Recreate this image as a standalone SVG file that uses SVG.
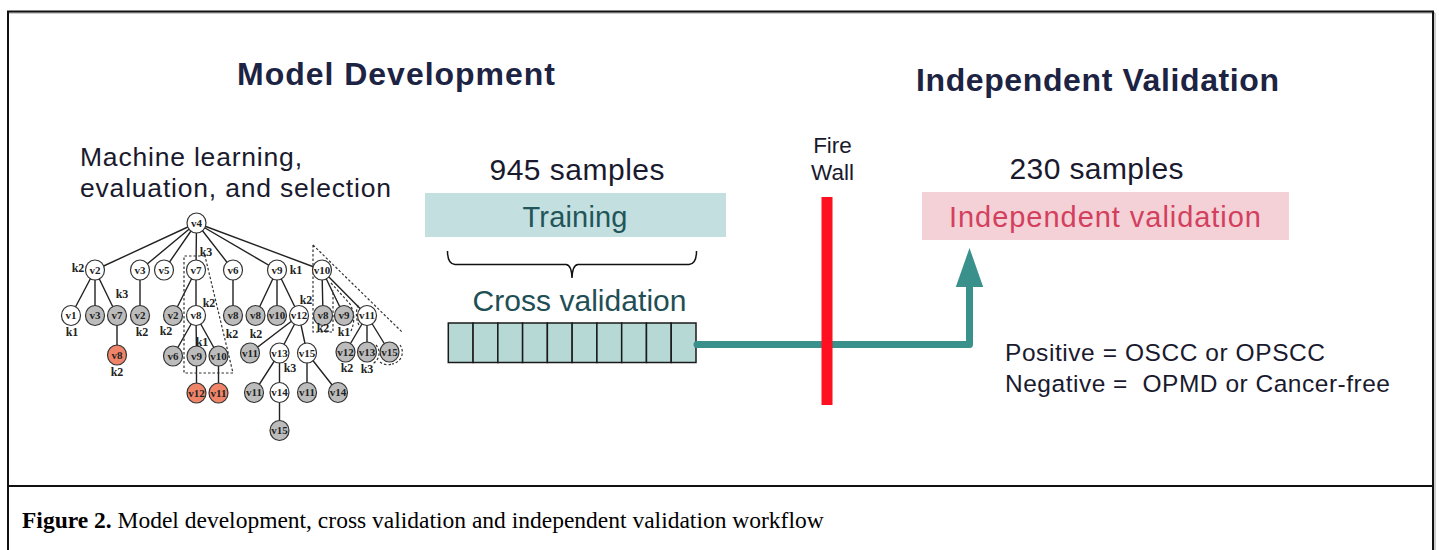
<svg xmlns="http://www.w3.org/2000/svg" width="1439" height="550" viewBox="0 0 1439 550">
<defs>
<style>
.frame{fill:none;stroke:#111;stroke-width:2}
.title{font-family:"Liberation Sans",Arial,sans-serif;font-weight:bold;font-size:32px;fill:#1d2342}
.body{font-family:"Liberation Sans",Arial,sans-serif;font-size:26.5px;fill:#1a1a2e}
.big{font-family:"Liberation Sans",Arial,sans-serif;font-size:30px;fill:#1a1a2e}
.teal{font-family:"Liberation Sans",Arial,sans-serif;font-size:29px;fill:#22555a}
.edge{stroke:#222;stroke-width:1.4;fill:none}
.dash{stroke:#333;stroke-width:1.2;fill:none;stroke-dasharray:2.5 2}
.nw{fill:#fff;stroke:#333;stroke-width:1.2}
.ng{fill:#bcbcbc;stroke:#333;stroke-width:1.2}
.no{fill:#ef8468;stroke:#333;stroke-width:1.2}
.vl{font-family:"Liberation Serif","Times New Roman",serif;font-weight:bold;font-size:11px;fill:#222;text-anchor:middle}
.kl{font-family:"Liberation Serif","Times New Roman",serif;font-weight:bold;font-size:12px;fill:#222;text-anchor:middle}
.cell{fill:#b6d9d6;stroke:#1a1a1a;stroke-width:1.5}
.cap{font-family:"Liberation Serif","Times New Roman",serif;font-size:23.5px;fill:#000}
</style>
</defs>
<rect width="1439" height="550" fill="#fff"/>
<g id="frame">
<line x1="9" y1="13" x2="1435" y2="13" stroke="#999" stroke-width="1"/>
<line x1="1435" y1="13" x2="1435" y2="550" stroke="#999" stroke-width="1"/>
<rect class="frame" x="8" y="11.5" width="1425" height="560"/>
<line class="frame" x1="8" y1="486" x2="1433" y2="486"/>
</g>
<g id="titles">
<text class="title" x="237" y="85" textLength="318">Model Development</text>
<text class="title" x="916" y="91" textLength="363">Independent Validation</text>
</g>
<g id="ml-label">
<text class="body" x="80" y="166" textLength="222">Machine learning,</text>
<text class="body" x="80" y="197" textLength="311">evaluation, and selection</text>
</g>
<g id="tree">
<g id="tree-edges">
<path class="edge" d="M196.5,223 L95,270 M196.5,223 L140,270 M196.5,223 L164,270 M196.5,223 L196,270 M196.5,223 L233,270 M196.5,223 L277,270 M196.5,223 L322,270"/>
<path class="edge" d="M95,270 L71,315.5 M95,270 L95,315.5 M95,270 L117,315.5 M140,270 L140,315.5 M117,315.5 L117,355"/>
<path class="edge" d="M196,270 L173,315.5 M196,270 L196,315.5 M196,315.5 L173,356 M196,315.5 L196.5,356 M196,315.5 L218.5,356 M196.5,356 L196.5,393 M218.5,356 L218.5,393"/>
<path class="edge" d="M233,270 L233,315.5 M277,270 L255.5,315.5 M277,270 L277,315.5 M277,270 L299,315.5"/>
<path class="edge" d="M299,315.5 L250,353 M299,315.5 L279.5,353 M299,315.5 L307,353 M279.5,353 L254,392.5 M279.5,353 L279.5,392.5 M279.5,392.5 L279.5,430.5 M307,353 L307,392.5 M307,353 L338,392.5"/>
<path class="edge" d="M322,270 L323,315.5 M322,270 L344,315.5 M322,270 L367,315.5 M367,315.5 L345.5,352 M367,315.5 L367,352 M367,315.5 L389.5,352"/>
</g>
<g id="tree-dashes">
<path class="dash" d="M205,256 L184,256 L184,373 L233,373 L205,256"/>
<path class="dash" d="M313,245 L402,332 M313,245 L313,332 L333,332 L333,290"/>
<path class="dash" d="M331,283 L350,304 Q357,317 351,331"/>
<path class="dash" d="M358,305 Q354,317 360,327"/>
<path class="dash" d="M376,345 A12,12 0 0 1 372,364"/>
<path class="dash" d="M400,345 A12,12 0 0 1 392,364 M380,362 A12,12 0 0 0 392,364"/>
</g>
<g id="tree-nodes">
<g id="n-v4"><ellipse class="nw" cx="196.5" cy="223" rx="9.5" ry="10"/><text class="vl" x="196.5" y="226.5">v4</text></g>
<g id="n-v2a"><ellipse class="nw" cx="95" cy="270" rx="9.5" ry="10"/><text class="vl" x="95" y="273.5">v2</text></g>
<g id="n-v3a"><ellipse class="nw" cx="140" cy="270" rx="9.5" ry="10"/><text class="vl" x="140" y="273.5">v3</text></g>
<g id="n-v5"><ellipse class="nw" cx="164" cy="270" rx="9.5" ry="10"/><text class="vl" x="164" y="273.5">v5</text></g>
<g id="n-v7a"><ellipse class="nw" cx="196" cy="270" rx="9.5" ry="10"/><text class="vl" x="196" y="273.5">v7</text></g>
<g id="n-v6a"><ellipse class="nw" cx="233" cy="270" rx="9.5" ry="10"/><text class="vl" x="233" y="273.5">v6</text></g>
<g id="n-v9a"><ellipse class="nw" cx="277" cy="270" rx="9.5" ry="10"/><text class="vl" x="277" y="273.5">v9</text></g>
<g id="n-v10a"><ellipse class="nw" cx="322" cy="270" rx="9.5" ry="10"/><text class="vl" x="322" y="273.5">v10</text></g>
<g id="n-v1"><ellipse class="nw" cx="71" cy="315.5" rx="9.5" ry="10"/><text class="vl" x="71" y="319">v1</text></g>
<g id="n-v3b"><ellipse class="ng" cx="95" cy="315.5" rx="9.5" ry="10"/><text class="vl" x="95" y="319">v3</text></g>
<g id="n-v7b"><ellipse class="ng" cx="117" cy="315.5" rx="9.5" ry="10"/><text class="vl" x="117" y="319">v7</text></g>
<g id="n-v2b"><ellipse class="ng" cx="140" cy="315.5" rx="9.5" ry="10"/><text class="vl" x="140" y="319">v2</text></g>
<g id="n-v2c"><ellipse class="ng" cx="173" cy="315.5" rx="9.5" ry="10"/><text class="vl" x="173" y="319">v2</text></g>
<g id="n-v8a"><ellipse class="nw" cx="196" cy="315.5" rx="9.5" ry="10"/><text class="vl" x="196" y="319">v8</text></g>
<g id="n-v8b"><ellipse class="ng" cx="233" cy="315.5" rx="9.5" ry="10"/><text class="vl" x="233" y="319">v8</text></g>
<g id="n-v8c"><ellipse class="ng" cx="255.5" cy="315.5" rx="9.5" ry="10"/><text class="vl" x="255.5" y="319">v8</text></g>
<g id="n-v10b"><ellipse class="ng" cx="277" cy="315.5" rx="9.5" ry="10"/><text class="vl" x="277" y="319">v10</text></g>
<g id="n-v12a"><ellipse class="nw" cx="299" cy="315.5" rx="9.5" ry="10"/><text class="vl" x="299" y="319">v12</text></g>
<g id="n-v8d"><ellipse class="ng" cx="323" cy="315.5" rx="9.5" ry="10"/><text class="vl" x="323" y="319">v8</text></g>
<g id="n-v9b"><ellipse class="ng" cx="344" cy="315.5" rx="9.5" ry="10"/><text class="vl" x="344" y="319">v9</text></g>
<g id="n-v11a"><ellipse class="nw" cx="367" cy="315.5" rx="9.5" ry="10"/><text class="vl" x="367" y="319">v11</text></g>
<g id="n-v8e"><ellipse class="no" cx="117" cy="355" rx="9.5" ry="10"/><text class="vl" x="117" y="358.5">v8</text></g>
<g id="n-v6b"><ellipse class="ng" cx="173" cy="356" rx="9.5" ry="10"/><text class="vl" x="173" y="359.5">v6</text></g>
<g id="n-v9c"><ellipse class="ng" cx="196.5" cy="356" rx="9.5" ry="10"/><text class="vl" x="196.5" y="359.5">v9</text></g>
<g id="n-v10c"><ellipse class="ng" cx="218.5" cy="356" rx="9.5" ry="10"/><text class="vl" x="218.5" y="359.5">v10</text></g>
<g id="n-v11b"><ellipse class="ng" cx="250" cy="353" rx="9.5" ry="10"/><text class="vl" x="250" y="356.5">v11</text></g>
<g id="n-v13a"><ellipse class="nw" cx="279.5" cy="353" rx="9.5" ry="10"/><text class="vl" x="279.5" y="356.5">v13</text></g>
<g id="n-v15a"><ellipse class="nw" cx="307" cy="353" rx="9.5" ry="10"/><text class="vl" x="307" y="356.5">v15</text></g>
<g id="n-v12b"><ellipse class="ng" cx="345.5" cy="352" rx="9.5" ry="10"/><text class="vl" x="345.5" y="355.5">v12</text></g>
<g id="n-v13b"><ellipse class="ng" cx="367" cy="352" rx="9.5" ry="10"/><text class="vl" x="367" y="355.5">v13</text></g>
<g id="n-v15b"><ellipse class="ng" cx="389.5" cy="352" rx="9.5" ry="10"/><text class="vl" x="389.5" y="355.5">v15</text></g>
<g id="n-v12c"><ellipse class="no" cx="196.5" cy="393" rx="9.5" ry="10"/><text class="vl" x="196.5" y="396.5">v12</text></g>
<g id="n-v11c"><ellipse class="no" cx="218.5" cy="393" rx="9.5" ry="10"/><text class="vl" x="218.5" y="396.5">v11</text></g>
<g id="n-v11d"><ellipse class="ng" cx="254" cy="392.5" rx="9.5" ry="10"/><text class="vl" x="254" y="396">v11</text></g>
<g id="n-v14a"><ellipse class="nw" cx="279.5" cy="392.5" rx="9.5" ry="10"/><text class="vl" x="279.5" y="396">v14</text></g>
<g id="n-v11e"><ellipse class="ng" cx="307" cy="392.5" rx="9.5" ry="10"/><text class="vl" x="307" y="396">v11</text></g>
<g id="n-v14b"><ellipse class="ng" cx="338" cy="392.5" rx="9.5" ry="10"/><text class="vl" x="338" y="396">v14</text></g>
<g id="n-v15c"><ellipse class="ng" cx="279.5" cy="430.5" rx="9.5" ry="10"/><text class="vl" x="279.5" y="434">v15</text></g>
</g>
<g id="tree-k-labels">
<text class="kl" x="78" y="272">k2</text>
<text class="kl" x="122" y="298">k3</text>
<text class="kl" x="72" y="336">k1</text>
<text class="kl" x="142" y="336">k2</text>
<text class="kl" x="117" y="376">k2</text>
<text class="kl" x="206" y="256">k3</text>
<text class="kl" x="209" y="307">k2</text>
<text class="kl" x="166" y="335">k2</text>
<text class="kl" x="202" y="346">k1</text>
<text class="kl" x="232" y="338">k2</text>
<text class="kl" x="256" y="338">k2</text>
<text class="kl" x="296" y="274">k1</text>
<text class="kl" x="306" y="304">k2</text>
<text class="kl" x="323" y="332">k2</text>
<text class="kl" x="344" y="336">k1</text>
<text class="kl" x="290" y="372">k3</text>
<text class="kl" x="347" y="372">k2</text>
<text class="kl" x="367" y="373">k3</text>
</g>
</g>
<g id="training">
<text class="big" x="577" y="180" text-anchor="middle" textLength="175">945 samples</text>
<rect x="425" y="193" width="301" height="44" fill="#c3dfdf"/>
<text class="teal" x="575" y="227" text-anchor="middle" textLength="105">Training</text>
</g>
<g id="brace">
<path d="M447.5,251 Q447.5,264 455,264.5 L566,264.5 Q571.5,265 572,278 Q572.5,265 578,264.5 L689,264.5 Q696.5,264 696.5,251" fill="none" stroke="#111" stroke-width="1.5"/>
</g>
<g id="cross-validation">
<text class="teal" x="579.5" y="311" text-anchor="middle" textLength="214" style="font-size:30px;fill:#1f4f55">Cross validation</text>
<rect class="cell" x="448.3" y="323" width="24.77" height="39.5"/>
<rect class="cell" x="473.07" y="323" width="24.77" height="39.5"/>
<rect class="cell" x="497.84" y="323" width="24.77" height="39.5"/>
<rect class="cell" x="522.61" y="323" width="24.77" height="39.5"/>
<rect class="cell" x="547.38" y="323" width="24.77" height="39.5"/>
<rect class="cell" x="572.15" y="323" width="24.77" height="39.5"/>
<rect class="cell" x="596.92" y="323" width="24.77" height="39.5"/>
<rect class="cell" x="621.69" y="323" width="24.77" height="39.5"/>
<rect class="cell" x="646.46" y="323" width="24.77" height="39.5"/>
<rect class="cell" x="671.23" y="323" width="24.77" height="39.5"/>
</g>
<g id="firewall">
<text class="body" x="832.5" y="153" text-anchor="middle" style="font-size:22.5px">Fire</text>
<text class="body" x="832.5" y="180" text-anchor="middle" style="font-size:22.5px">Wall</text>
</g>
<g id="connectors">
<path d="M697,344.5 L969.5,344.5 L969.5,284" fill="none" stroke="#3a918b" stroke-width="7" stroke-linecap="round" stroke-linejoin="round"/>
<path d="M969.5,248 L983.2,287 L955.8,287 Z" fill="#3a918b"/>
</g>
<g id="firewall-bar">
<rect x="821.5" y="197" width="11" height="208" fill="#fe1020"/>
</g>
<g id="independent">
<text class="big" x="1096.5" y="179" text-anchor="middle" textLength="174">230 samples</text>
<rect x="922" y="192" width="367" height="48" fill="#f3d1d6"/>
<text x="1105" y="227" text-anchor="middle" textLength="312" style="font-family:'Liberation Sans',Arial,sans-serif;font-size:29px;fill:#d3405e">Independent validation</text>
</g>
<g id="legend">
<text class="body" x="1005" y="361" textLength="320" style="font-size:24.5px">Positive = OSCC or OPSCC</text>
<text class="body" x="1005" y="392" textLength="385" style="font-size:24.5px" xml:space="preserve">Negative =  OPMD or Cancer-free</text>
</g>
<g id="caption">
<text class="cap" x="22" y="528"><tspan font-weight="bold">Figure 2.</tspan> Model development, cross validation and independent validation workflow</text>
</g>
</svg>
